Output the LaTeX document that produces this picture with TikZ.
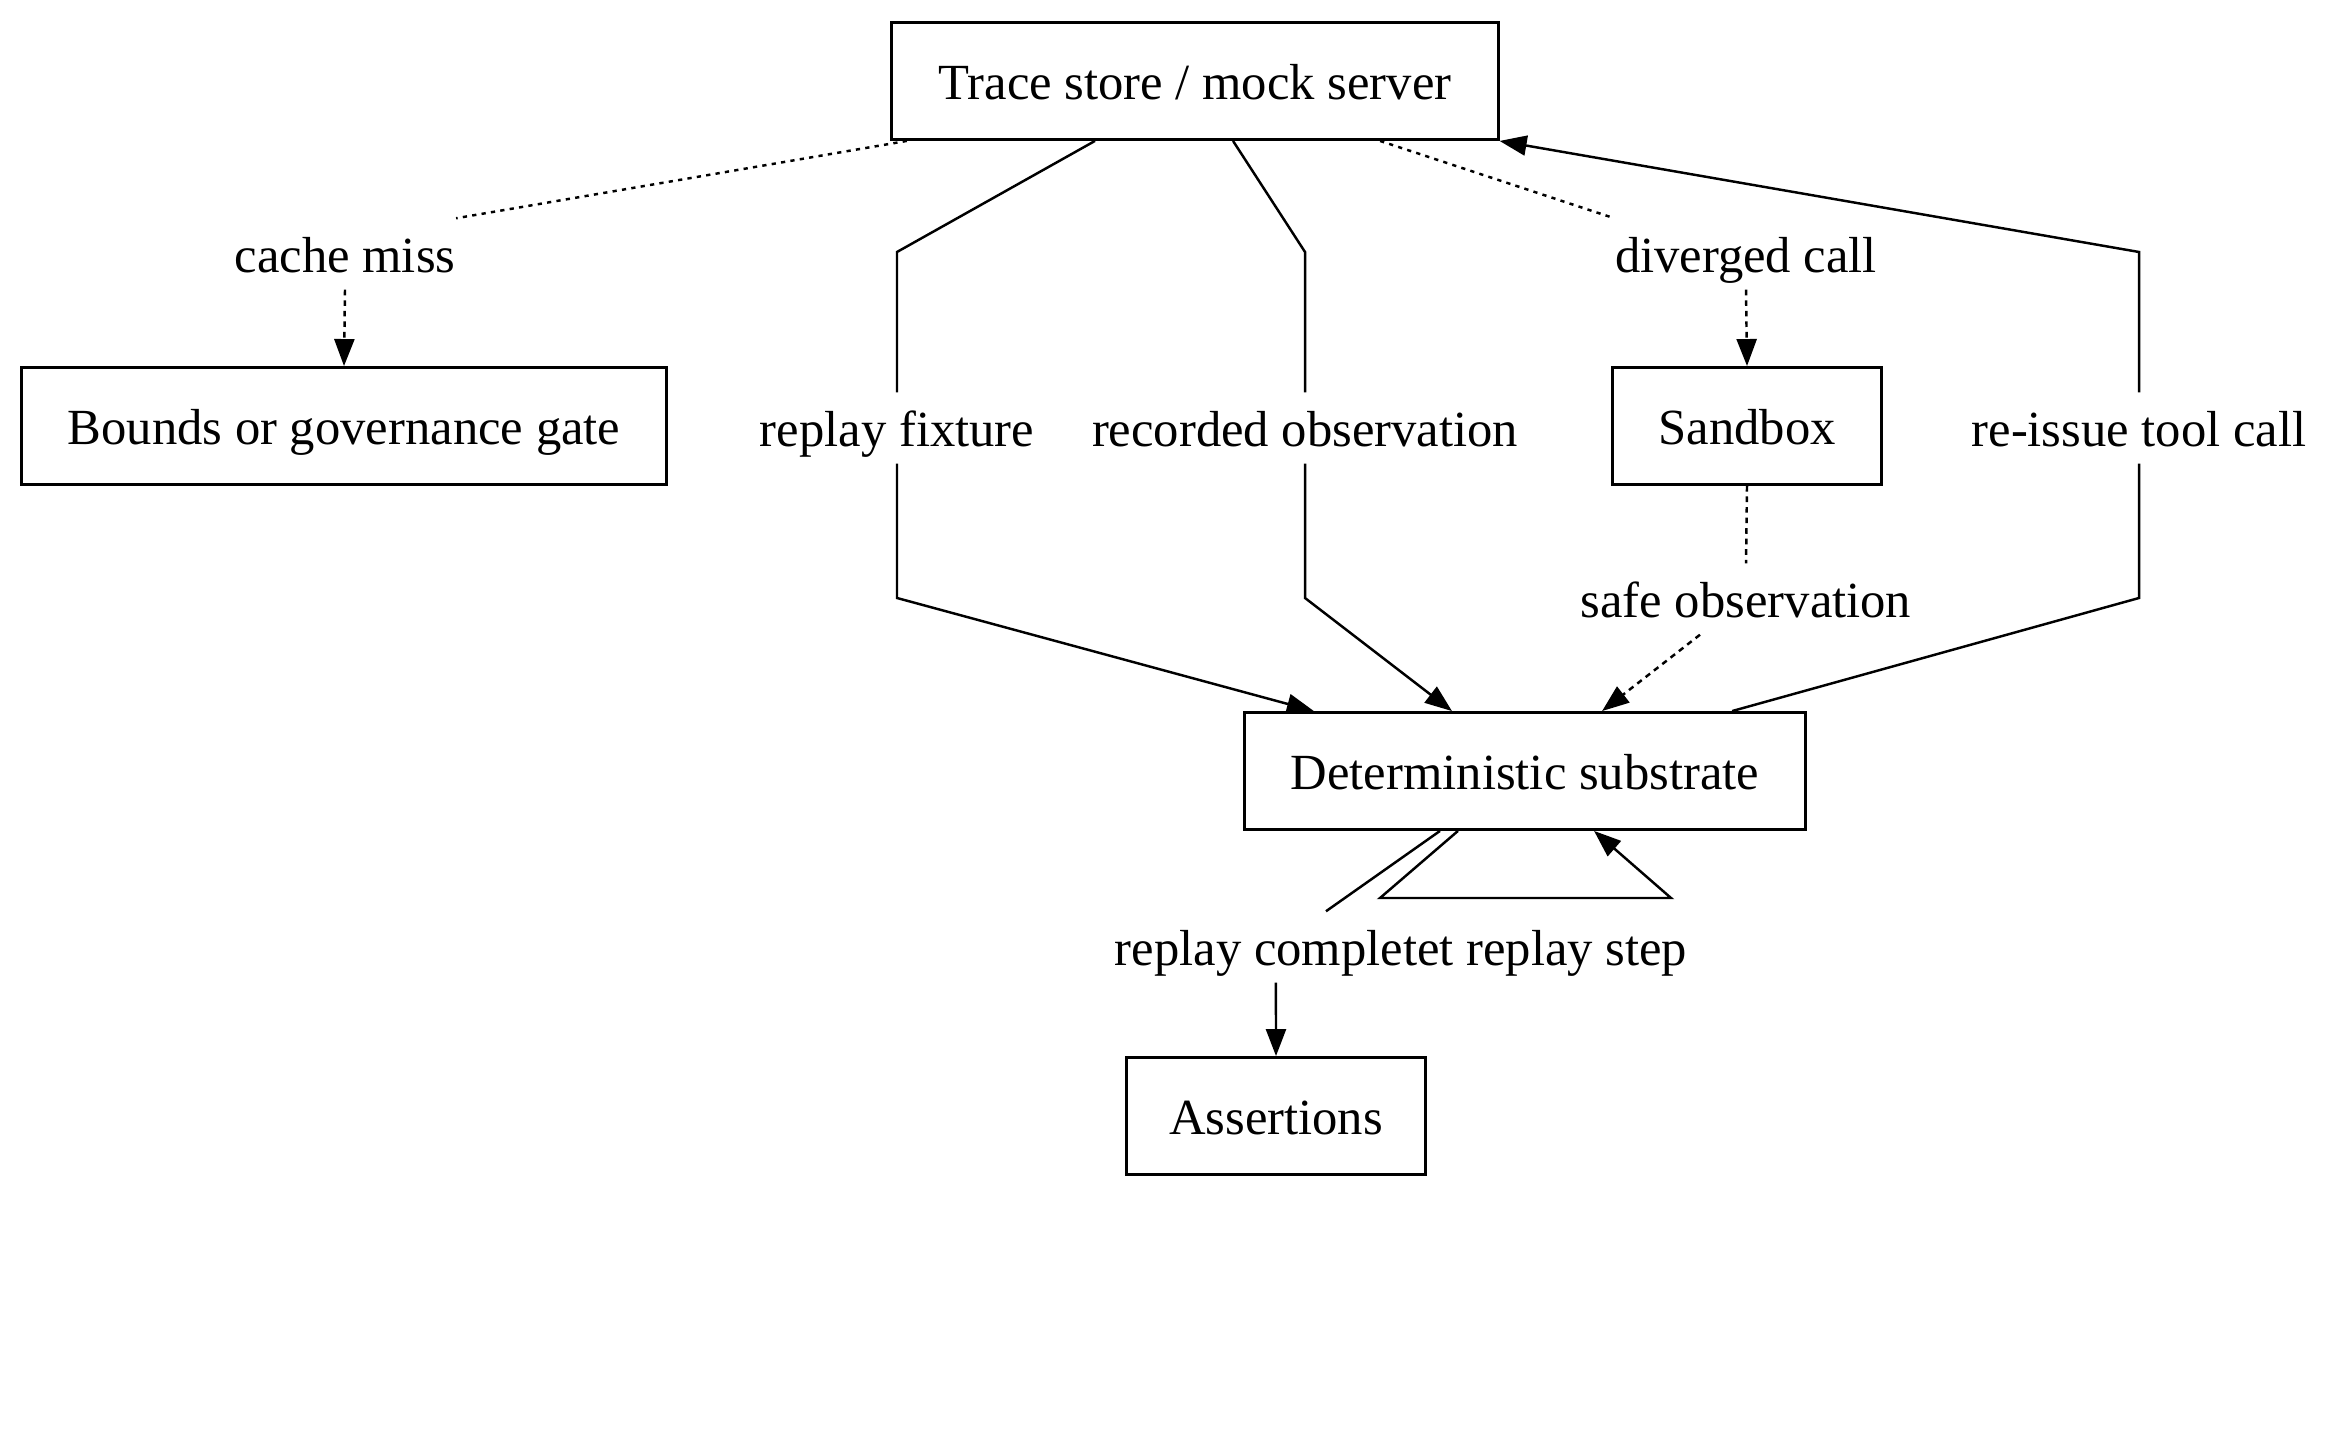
\documentclass[tikz,border=0pt]{standalone}
\usepackage{fontspec}
\setmainfont{Liberation Serif}
\usetikzlibrary{arrows.meta,calc}
\newcommand\diagfont{\fontsize{14.4}{17}\selectfont}
\begin{document}
\begin{tikzpicture}[x=0.01cm,y=-0.01cm,
  box/.style={draw,line width=0.8pt,minimum height=1.17cm,inner sep=0pt,font=\diagfont,text height=12pt,text depth=1.6pt},
  lbl/.style={inner sep=0pt,minimum height=0.7cm,font=\diagfont,text height=12pt,text depth=1.6pt},
  conn/.style={line width=0.7pt},
  tip/.style={-{Triangle[length=0.27cm,width=0.2cm]}},
  dotline/.style={dash pattern=on 1.2pt off 1.5pt},
  dashline/.style={dash pattern=on 1.6pt off 1.4pt}]
\useasboundingbox (0,0) rectangle (2352,1443);
% boxes
\node[box,minimum width=6.06cm] (trace) at (1195,81) {Trace store / mock server};
\node[box,minimum width=6.44cm] (gate) at (344,426) {Bounds or governance gate};
\node[box,minimum width=2.69cm] (sandbox) at (1747,426) {Sandbox};
\node[box,minimum width=5.61cm] (det) at (1525,771) {Deterministic substrate};
\node[box,minimum width=2.99cm] (assert) at (1276,1116) {Assertions};
% labels
\node[lbl] (miss) at (345,254) {cache miss};
\node[lbl] (div) at (1746,254) {diverged call};
\node[lbl] (fix) at (897,428) {replay fixture};
\node[lbl] (rec) at (1305,428) {recorded observation};
\node[lbl] (reissue) at (2139,428) {re-issue tool call};
\node[lbl] (safe) at (1746,599) {safe observation};
\node[lbl] (done) at (1401,947) {replay completet replay step};
% cache miss
\draw[conn,dotline] ([xshift=-2.88cm]trace.south) -- (miss.north east);
\draw[conn,dashline,tip] (miss.south) -- (gate.north);
% diverged call
\draw[conn,dotline] ([xshift=1.85cm]trace.south) -- (div.north west);
\draw[conn,dashline,tip] (div.south) -- (sandbox.north);
% replay fixture
\draw[conn] ([xshift=-1cm]trace.south) -- (897,252) -- (fix.north);
\draw[conn,tip] (fix.south) -- (897,598) -- ([xshift=-2.11cm]det.north);
% recorded observation
\draw[conn] ([xshift=0.38cm]trace.south) -- (1305,252) -- (rec.north);
\draw[conn,tip] (rec.south) -- (1305,598) -- ([xshift=-0.73cm]det.north);
% safe observation
\draw[conn,dashline] (sandbox.south) -- (safe.north);
\draw[conn,dashline,tip] ([xshift=-0.46cm]safe.south) -- ([xshift=0.77cm]det.north);
% re-issue tool call
\draw[conn] ([xshift=2.07cm]det.north) -- (2139,598) -- (reissue.south);
\draw[conn,tip] (reissue.north) -- (2139,252) -- (trace.south east);
% replay complete
\draw[conn] ([xshift=-0.85cm]det.south) -- ([xshift=-0.75cm]done.north);
\draw[conn,tip] ([xshift=-1.25cm]done.south) -- (assert.north);
% replay step self loop
\draw[conn,tip] ([xshift=-0.67cm]det.south) -- (1380,898) -- (1671,898) -- ([xshift=0.69cm]det.south);
\end{tikzpicture}
\end{document}
